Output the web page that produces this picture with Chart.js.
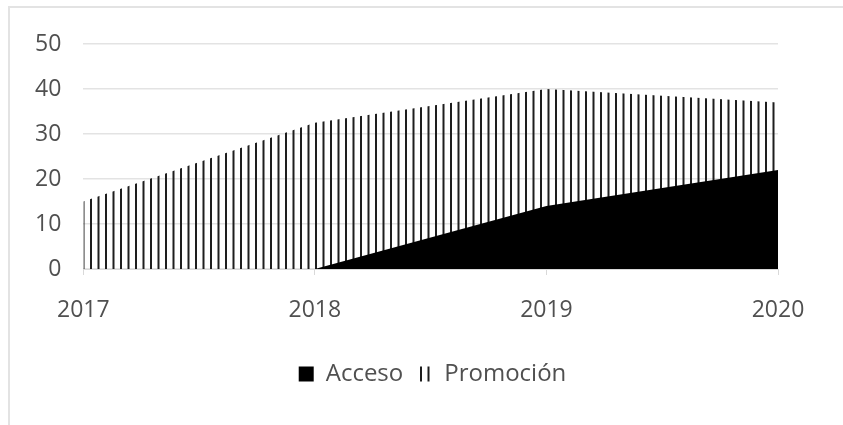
<!DOCTYPE html>
<html>
<head>
<meta charset="utf-8">
<script src="https://cdn.jsdelivr.net/npm/chart.js@4.4.1/dist/chart.umd.min.js"></script>
<style>
  html, body { margin: 0; padding: 0; background: #fff; }
  #wrap { position: relative; width: 843px; height: 425px; }
  #frame {
    position: absolute; left: 8px; top: 6px; right: 0; bottom: 0;
    border-left: 2px solid #e3e3e3; border-top: 2px solid #e3e3e3;
  }
  #chart { position: absolute; left: 0; top: 0; }
</style>
</head>
<body>
<div id="wrap">
  <div id="frame"></div>
  <canvas id="chart" width="843" height="425"></canvas>
</div>
<script>
// Acceso vs Promoción, 2017-2020
const years = ["2017", "2018", "2019", "2020"];
const acceso = [null, 0, 14, 22];
const promocion = [15, 32.5, 40, 37];
const yTicks = [0, 10, 20, 30, 40, 50];

const textColor = "#505050";
const fontFamily = "'Open Sans', sans-serif";

function stripePattern() {
  const c = document.createElement("canvas");
  c.width = 15;
  c.height = 10;
  const g = c.getContext("2d");
  g.fillStyle = "#1e1e1e";
  g.fillRect(0, 0, 2, 10);
  g.fillRect(7.5, 0, 2, 10);
  return document.getElementById("chart").getContext("2d").createPattern(c, "repeat");
}

const stripes = stripePattern();

// legend sits a bit right of the plot centre in the original
const legendShift = {
  id: "legendShift",
  afterLayout(chart) {
    const lg = chart.legend;
    if (!lg) return;
    lg.left += 37;
    lg.right += 37;
  },
};

// eslint-disable-next-line no-new
new Chart(document.getElementById("chart"), {
  type: "line",
  data: {
    labels: years,
    datasets: [
      {
        label: "Acceso",
        data: acceso,
        backgroundColor: "#000",
        borderColor: "#000",
        borderWidth: 0,
        pointRadius: 0,
        fill: "origin",
        tension: 0,
        order: 0,
      },
      {
        label: "Promoción",
        data: promocion,
        backgroundColor: stripes,
        borderColor: "rgba(0,0,0,0)",
        borderWidth: 0,
        pointRadius: 0,
        fill: "origin",
        tension: 0,
        order: 1,
      },
    ],
  },
  plugins: [legendShift],
  options: {
    responsive: false,
    animation: false,
    layout: { padding: { left: 13, right: 65, top: 44, bottom: 29 } },
    plugins: {
      tooltip: { enabled: false },
      legend: {
        position: "bottom",
        labels: {
          color: textColor,
          font: { family: fontFamily, size: 24 },
          boxWidth: 15,
          boxHeight: 15,
          padding: 14,
        },
      },
    },
    scales: {
      x: {
        type: "category",
        offset: false,
        grid: {
          display: true,
          drawOnChartArea: false,
          drawTicks: true,
          tickLength: 6,
          color: "#d9d9d9",
        },
        border: { display: true, color: "#d9d9d9", width: 1 },
        ticks: {
          color: textColor,
          font: { family: fontFamily, size: 23 },
          padding: 22,
          maxRotation: 0,
        },
        afterFit: (scale) => { scale.height = 79; },
      },
      y: {
        min: 0,
        max: 50,
        afterBuildTicks: (scale) => {
          scale.ticks = yTicks.map((v) => ({ value: v }));
        },
        grid: { color: "#e3e3e3", drawTicks: false, lineWidth: 1.5 },
        border: { display: false },
        ticks: {
          color: textColor,
          font: { family: fontFamily, size: 23 },
          padding: 22,
        },
      },
    },
  },
});
</script>
</body>
</html>
